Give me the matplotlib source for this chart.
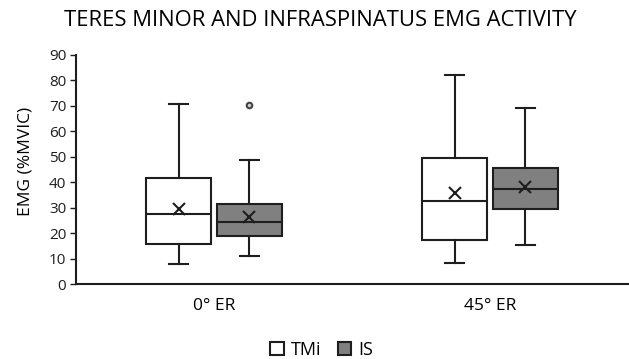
import numpy as np
import matplotlib
matplotlib.use("Agg")
import matplotlib.pyplot as plt
from matplotlib.patches import Patch

# category labels and series names
categories = ['0° ER', '45° ER']
series = ['TMi', 'IS']

# box statistics (EMG %MVIC)
tmi_whislo = [7.7, 8.4]
tmi_q1 = [15.6, 17.3]
tmi_med = [27.4, 32.5]
tmi_q3 = [41.8, 49.5]
tmi_whishi = [70.7, 82.0]
tmi_mean = [29.4, 35.7]
tmi_fliers = [[], []]

is_whislo = [11.0, 15.2]
is_q1 = [18.7, 29.6]
is_med = [24.5, 37.2]
is_q3 = [31.6, 45.5]
is_whishi = [48.9, 69.0]
is_mean = [26.5, 38.0]
is_fliers = [[70.4], []]

plt.rcParams['font.family'] = ['Open Sans', 'DejaVu Sans']

fig = plt.figure(figsize=(6.29, 3.59), dpi=100)
ax = fig.add_axes([76/629, 75/359, 552/629, 229/359])

dark = '#1e1e1e'
fills = ['white', '#808080']
offsets = [-0.128, 0.128]
width = 0.235

def make_stats(lo, q1, med, q3, hi, mean, fl):
    out = []
    for i in range(len(lo)):
        out.append(dict(whislo=lo[i], q1=q1[i], med=med[i], q3=q3[i],
                        whishi=hi[i], mean=mean[i], fliers=fl[i]))
    return out

all_stats = [
    make_stats(tmi_whislo, tmi_q1, tmi_med, tmi_q3, tmi_whishi, tmi_mean, tmi_fliers),
    make_stats(is_whislo, is_q1, is_med, is_q3, is_whishi, is_mean, is_fliers),
]

pos = np.arange(len(categories))
lw = 1.5
for k in range(2):
    ax.bxp(all_stats[k], positions=pos + offsets[k], widths=width,
           showmeans=True, patch_artist=True, capwidths=0.07,
           boxprops=dict(facecolor=fills[k], edgecolor=dark, linewidth=lw),
           medianprops=dict(color=dark, linewidth=lw),
           whiskerprops=dict(color=dark, linewidth=lw),
           capprops=dict(color=dark, linewidth=lw),
           meanprops=dict(marker='x', markersize=8, markeredgecolor=dark,
                          markeredgewidth=1.5),
           flierprops=dict(marker='o', markersize=4, markerfacecolor='#d0d0d0',
                           markeredgecolor='#444444', markeredgewidth=1.5))

ax.set_xlim(-0.5, 1.5)
ax.set_ylim(0, 90)
ax.set_yticks(np.arange(0, 91, 10))
ax.set_xticks(pos)
ax.set_xticklabels(categories, fontsize=12.5)
ax.tick_params(axis='x', length=0, pad=10)
ax.tick_params(axis='y', length=4, width=1, labelsize=11, pad=3, colors=dark)
for s in ['top', 'right']:
    ax.spines[s].set_visible(False)
for s in ['left', 'bottom']:
    ax.spines[s].set_color(dark)
    ax.spines[s].set_linewidth(1.5)
ax.set_ylabel('EMG (%MVIC)', fontsize=12.5)
ax.yaxis.set_label_coords(-42/552, (284 - 161)/229)

fig.text(320/629, 1 - 21/359, 'TERES MINOR AND INFRASPINATUS EMG ACTIVITY',
         fontsize=15.8, ha='center', va='center')

handles = [Patch(facecolor=fills[k], edgecolor=dark, linewidth=1.5) for k in range(2)]
fig.legend(handles, series, loc='center', bbox_to_anchor=(322/629, 1 - 350/359),
           ncol=2, frameon=False, fontsize=13, handlelength=0.75, handleheight=0.75,
           handletextpad=0.4, columnspacing=0.9)

fig.savefig('out.png', dpi=100)
